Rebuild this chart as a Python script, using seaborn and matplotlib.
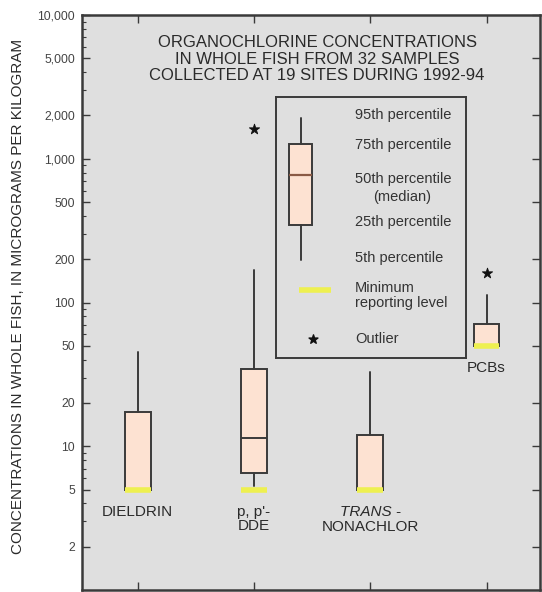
import matplotlib
matplotlib.use("Agg")
import matplotlib.pyplot as plt
import seaborn as sns
import pandas as pd
from matplotlib.ticker import FixedLocator, FixedFormatter, LogLocator, NullFormatter

# ---- data ----
categories = ["DIELDRIN", "p, p'-\nDDE", "TRANS -\nNONACHLOR", "PCBs"]
p5 = [5, 5.3, 5, 50]
p25 = [5, 6.5, 5, 50]
p50 = [5, 11.4, 5, 50]
p75 = [17.3, 34.5, 11.9, 71]
p95 = [45, 167, 33, 112]
outlier_cat = [1, 3]
outlier_val = [1600, 160]
min_reporting = [5, 5, 5, 50]
ytick_values = [2, 5, 10, 20, 50, 100, 200, 500, 1000, 2000, 5000, 10000]
ytick_labels = ["2", "5", "10", "20", "50", "100", "200", "500",
                "1,000", "2,000", "5,000", "10,000"]
title_lines = ["ORGANOCHLORINE CONCENTRATIONS",
               "IN WHOLE FISH FROM 32 SAMPLES",
               "COLLECTED AT 19 SITES DURING 1992-94"]
ylabel = "CONCENTRATIONS IN WHOLE FISH, IN MICROGRAMS PER KILOGRAM"
legend_labels = ["95th percentile", "75th percentile", "50th percentile",
                 "(median)", "25th percentile", "5th percentile",
                 "Minimum", "reporting level", "Outlier"]

BG = "#dfdfdf"
BOXFILL = "#fde2d2"
EDGE = "#3a3a3a"
YELLOW = "#eef050"
TXT = "#2a2a2a"

sns.set_theme(style="ticks")
plt.rcParams["font.family"] = ["Liberation Sans", "DejaVu Sans"]

fig = plt.figure(figsize=(5.42, 5.92), dpi=100)
ax = fig.add_axes([82 / 542, 2 / 592, 458 / 542, 575 / 592])
ax.set_facecolor(BG)

stats = []
for i in range(len(categories)):
    stats.append(dict(whislo=p5[i], q1=p25[i], med=p50[i], q3=p75[i],
                      whishi=p95[i], fliers=[], label=categories[i]))
ax.bxp(stats, positions=range(len(categories)), widths=0.22, showcaps=False,
       patch_artist=True,
       boxprops=dict(facecolor=BOXFILL, edgecolor=EDGE, linewidth=1.4),
       whiskerprops=dict(color=EDGE, linewidth=1.4),
       medianprops=dict(color=EDGE, linewidth=1.4))

# minimum reporting level
ax.hlines(min_reporting, [i - 0.11 for i in range(4)], [i + 0.11 for i in range(4)],
          colors=YELLOW, linewidth=4, zorder=5)

# outliers
odf = pd.DataFrame({"x": outlier_cat, "y": outlier_val})
sns.scatterplot(data=odf, x="x", y="y", ax=ax, marker="*", s=60,
                color="#111111", edgecolor="#111111", zorder=6, legend=False)

ax.set_yscale("log")
ax.set_ylim(1, 10000)
ax.set_xlim(-0.48, 3.46)
ax.yaxis.set_major_locator(FixedLocator(ytick_values))
ax.yaxis.set_major_formatter(FixedFormatter(ytick_labels))
ax.yaxis.set_minor_locator(LogLocator(base=10, subs=range(2, 10)))
ax.yaxis.set_minor_formatter(NullFormatter())
ax.set_xticks(range(len(categories)))
ax.set_xticklabels([])
ax.tick_params(axis="both", which="major", direction="in", length=6, width=1,
               color=EDGE, top=True, right=True, labelsize=8.8, labelcolor="#444444", pad=5)
ax.tick_params(axis="y", which="minor", direction="in", length=3, width=0.8,
               color=EDGE, right=False)
ax.set_xlabel("")
ax.set_ylabel("")
for s in ax.spines.values():
    s.set_color(EDGE)
    s.set_linewidth(1.8)

# category labels under the reporting levels
for i, lab in enumerate(categories):
    if i == 2:
        ax.annotate("TRANS -", (i, min_reporting[i]), xytext=(0, -11),
                    textcoords="offset points", ha="center", va="top",
                    fontsize=11, style="italic", color=TXT)
        ax.annotate("NONACHLOR", (i, min_reporting[i]), xytext=(0, -22),
                    textcoords="offset points", ha="center", va="top",
                    fontsize=11, color=TXT)
    else:
        ax.annotate(lab, (i, min_reporting[i]), xytext=(0, -11),
                    textcoords="offset points", ha="center", va="top",
                    fontsize=11, color=TXT, linespacing=1.05)

for k, line in enumerate(title_lines):
    fig.text(317 / 542, 1 - (42.5 + 16.5 * k) / 592, line, ha="center",
             va="center", fontsize=12, color=TXT)
fig.text(18 / 542, 1 - 296 / 592, ylabel, rotation=90, ha="center", va="center",
         fontsize=11, color=TXT)

# explanation box
lg = fig.add_axes([276 / 542, 1 - 358 / 592, 190 / 542, 261 / 592])
lg.set_facecolor(BG)
lg.set_xticks([])
lg.set_yticks([])
for s in lg.spines.values():
    s.set_color(EDGE)
    s.set_linewidth(1.4)
lg.bxp([dict(whislo=0.375, q1=0.51, med=0.70, q3=0.82, whishi=0.92, fliers=[])],
       positions=[0.13], widths=0.12, showcaps=False, patch_artist=True,
       boxprops=dict(facecolor=BOXFILL, edgecolor=EDGE, linewidth=1.4),
       whiskerprops=dict(color=EDGE, linewidth=1.4),
       medianprops=dict(color="#8a5a45", linewidth=1.6), manage_ticks=False)
lg.hlines([0.26], [0.12], [0.29], colors=YELLOW, linewidth=4)
lg.scatter([0.195], [0.073], marker="*", s=45, color="#111111")
lg.set_xlim(0, 1)
lg.set_ylim(0, 1)
lab_y = [0.93, 0.816, 0.684, 0.617, 0.52, 0.383, 0.268, 0.21, 0.073]
for t, yy in zip(legend_labels, lab_y):
    xx = 0.416 if t != "(median)" else 0.51
    lg.text(xx, yy, t, ha="left", va="center", fontsize=10.5, color="#333333")

fig.savefig("out.png", dpi=100, facecolor="white")
